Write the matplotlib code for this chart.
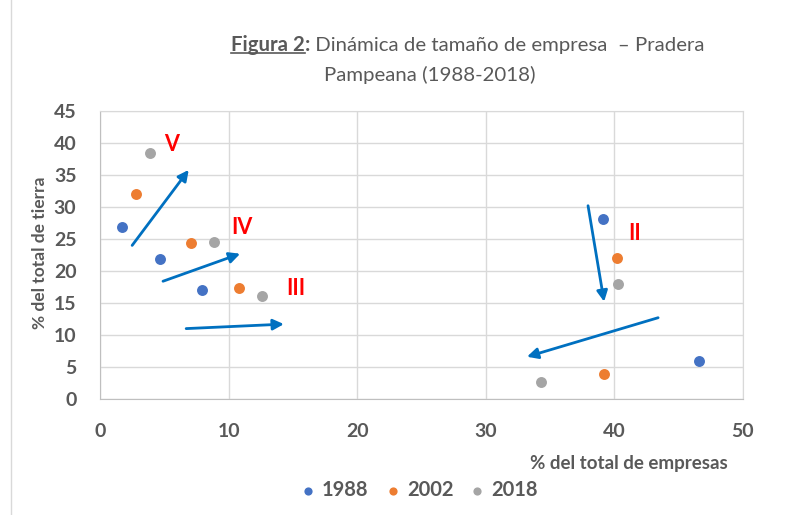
import numpy as np
import matplotlib
matplotlib.use("Agg")
import matplotlib.pyplot as plt
from matplotlib.lines import Line2D

plt.rcParams['font.family'] = ['Lato', 'DejaVu Sans']

# ── Data ──────────────────────────────────────────────────────────────────────
years = ["1988", "2002", "2018"]
empresas_1988 = [1.7, 4.7, 7.9, 39.1, 46.6]
tierra_1988   = [26.8, 21.9, 17.0, 28.1, 6.0]
empresas_2002 = [2.8, 7.1, 10.8, 40.2, 39.2]
tierra_2002   = [32.1, 24.4, 17.3, 22.1, 3.9]
empresas_2018 = [3.9, 8.9, 12.6, 40.3, 34.3]
tierra_2018   = [38.4, 24.6, 16.1, 18.0, 2.7]
colors = ["#4472C4", "#ED7D31", "#A5A5A5"]

# arrows (start -> end) and group labels
arrows = [((2.5, 24.0), (6.9, 35.8)),
          ((4.9, 18.4), (10.9, 22.7)),
          ((6.7, 11.0), (14.3, 11.7)),
          ((37.95, 30.2), (39.2, 15.2)),
          ((43.4, 12.7), (33.2, 6.6))]
groups = ["V", "IV", "III", "II"]
group_pos = [(5.6, 39.7), (11.0, 26.8), (15.2, 17.2), (41.6, 25.8)]

# ── Plot ──────────────────────────────────────────────────────────────────────
W, H = 809, 515
fig = plt.figure(figsize=(W / 100, H / 100), dpi=100)
ax = fig.add_axes([100 / W, 1 - 399 / H, 643 / W, 288 / H])

series = [(empresas_1988, tierra_1988), (empresas_2002, tierra_2002),
          (empresas_2018, tierra_2018)]
handles = []
for (xs, ys), c, lbl in zip(series, colors, years):
    h = ax.scatter(xs, ys, s=62, color=c, label=lbl, zorder=3, linewidths=0)
    handles.append(h)

for (x0, y0), (x1, y1) in arrows:
    ax.annotate("", xy=(x1, y1), xytext=(x0, y0),
                arrowprops=dict(arrowstyle="-|>", color="#0070C0", lw=2,
                                mutation_scale=16, shrinkA=0, shrinkB=0),
                zorder=4)

for g, (gx, gy) in zip(groups, group_pos):
    ax.text(gx, gy, g, color="#FF0000", fontsize=15.5, fontweight="bold",
            ha="center", va="center", zorder=5)

ax.set_xlim(0, 50)
ax.set_ylim(0, 45)
ax.set_xticks(np.arange(0, 51, 10))
ax.set_yticks(np.arange(0, 46, 5))
ax.grid(True, color="#D9D9D9", lw=1)
ax.set_axisbelow(True)
for s in ax.spines.values():
    s.set_color("#D9D9D9")
ax.spines["bottom"].set_color("#BFBFBF")
ax.spines["left"].set_color("#BFBFBF")
ax.tick_params(length=0, labelsize=14, labelcolor="#595959")
ax.tick_params(axis="x", pad=17)
ax.tick_params(axis="y", pad=17)
for t in ax.get_xticklabels() + ax.get_yticklabels():
    t.set_fontweight("bold")

fig.text(40 / W, 1 - 253 / H, "% del total de tierra", rotation=90,
         ha="center", va="center", fontsize=12.5, fontweight="bold",
         color="#595959")
fig.text(728 / W, 1 - 463 / H, "% del total de empresas", ha="right",
         va="center", fontsize=13.5, fontweight="bold", color="#595959")

fig.legend(handles=handles, labels=years, loc="center",
           bbox_to_anchor=(420 / W, 1 - 490 / H), ncol=3, frameon=False,
           prop=dict(size=14.5, weight="bold"), handlelength=0.6,
           handletextpad=0.4, columnspacing=0.9, markerscale=0.75,
           labelcolor="#595959")

# ── Title (first part bold + underlined) ──────────────────────────────────────
tcol = "#595959"
tsize = 14.7
renderer = fig.canvas.get_renderer()
x_start = 231
y1 = 1 - 45 / H
t_a = fig.text(x_start / W, y1, "Figura 2", fontsize=tsize, fontweight="bold",
               color=tcol, ha="left", va="center")
bb_a = t_a.get_window_extent(renderer)
t_b = fig.text(bb_a.x1 / W, y1, ":", fontsize=tsize, fontweight="bold",
               color=tcol, ha="left", va="center")
bb_b = t_b.get_window_extent(renderer)
fig.text(bb_b.x1 / W, y1, " Dinámica de tamaño de empresa  – Pradera",
         fontsize=tsize, color=tcol, ha="left", va="center")
uy = (bb_a.y0 + 2) / H
fig.add_artist(Line2D([bb_a.x0 / W, bb_a.x1 / W], [uy, uy], color=tcol, lw=1.2))
fig.text(430 / W, 1 - 75 / H, "Pampeana (1988-2018)", fontsize=tsize,
         color=tcol, ha="center", va="center")

# chart frame
fig.add_artist(Line2D([11 / W, 11 / W], [0, 1], color="#D9D9D9", lw=1))

fig.savefig("out.png", dpi=100)
